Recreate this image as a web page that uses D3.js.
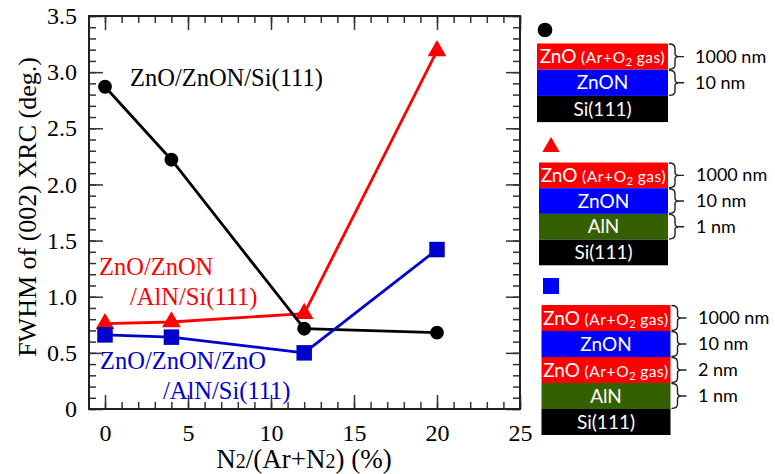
<!DOCTYPE html>
<html>
<head>
<meta charset="utf-8">
<script src="https://cdn.jsdelivr.net/npm/d3@7"></script>
<style>
  html, body { margin: 0; padding: 0; background: #fff; }
  svg { display: block; }
</style>
</head>
<body>
<svg id="chart" width="775" height="474"></svg>
<script>
// N2 flow ratio (%) for each sample
const n2Ratio = [0, 4, 12, 20];
// FWHM of the (002) X-ray rocking curve (deg.)
const fwhmZnONSi = [2.87, 2.22, 0.715, 0.68];
const fwhmZnONAlNSi = [0.76, 0.775, 0.85, 3.19];
const fwhmZnONZnOAlNSi = [0.66, 0.64, 0.50, 1.42];

// axis ticks
const xMajorTicks = [0, 5, 10, 15, 20, 25];
const xMinorTicks = d3.range(0, 26);
const yMajorTicks = [0, 0.5, 1.0, 1.5, 2.0, 2.5, 3.0, 3.5];
const yMinorTicks = d3.range(0, 36).map(i => i / 10);

// layer stacks shown beside the plot
const stackCircle = [
  { layer: "ZnO", gas: true, fill: "#ff0000", thickness: "1000 nm" },
  { layer: "ZnON", fill: "#0000ff", thickness: "10 nm" },
  { layer: "Si(111)", fill: "#000000" }
];
const stackTriangle = [
  { layer: "ZnO", gas: true, fill: "#ff0000", thickness: "1000 nm" },
  { layer: "ZnON", fill: "#0000ff", thickness: "10 nm" },
  { layer: "AlN", fill: "#356000", thickness: "1 nm" },
  { layer: "Si(111)", fill: "#000000" }
];
const stackSquare = [
  { layer: "ZnO", gas: true, fill: "#ff0000", thickness: "1000 nm" },
  { layer: "ZnON", fill: "#0000ff", thickness: "10 nm" },
  { layer: "ZnO", gas: true, fill: "#ff0000", thickness: "2 nm" },
  { layer: "AlN", fill: "#356000", thickness: "1 nm" },
  { layer: "Si(111)", fill: "#000000" }
];

const svg = d3.select("#chart");
const plotLeft = 89, plotRight = 520, plotTop = 16, plotBottom = 409;
const serif = "'Liberation Serif', 'Times New Roman', serif";
const sans = "Lato, 'Noto Sans', 'Liberation Sans', sans-serif";

const x = d3.scaleLinear().domain([-0.964, 25]).range([plotLeft, plotRight]);
const y = d3.scaleLinear().domain([0, 3.5]).range([plotBottom, plotTop]);

svg.append("rect").attr("width", 775).attr("height", 474).attr("fill", "#fff");

// ---- axes: ticks on all four sides, pointing inward ----
function styleAxis(g) {
  g.select(".domain").remove();
  g.selectAll(".tick line").attr("stroke", "#333").attr("stroke-width", 1.5);
  g.selectAll(".tick text").attr("font-family", serif).attr("font-size", 24).attr("fill", "#000");
}
const fmtY = d => d === 0 ? "0" : d3.format(".1f")(d);

svg.append("g").attr("transform", `translate(0,${plotBottom})`)
  .call(d3.axisBottom(x).tickValues(xMinorTicks).tickSize(-7).tickFormat("")).call(styleAxis);
svg.append("g").attr("transform", `translate(0,${plotBottom})`)
  .call(d3.axisBottom(x).tickValues(xMajorTicks).tickSize(-14).tickPadding(15).tickFormat(d3.format("d"))).call(styleAxis);
svg.append("g").attr("transform", `translate(0,${plotTop})`)
  .call(d3.axisTop(x).tickValues(xMinorTicks).tickSize(-7).tickFormat("")).call(styleAxis);
svg.append("g").attr("transform", `translate(0,${plotTop})`)
  .call(d3.axisTop(x).tickValues(xMajorTicks).tickSize(-14).tickFormat("")).call(styleAxis);

svg.append("g").attr("transform", `translate(${plotLeft},0)`)
  .call(d3.axisLeft(y).tickValues(yMinorTicks).tickSize(-7).tickFormat("")).call(styleAxis);
svg.append("g").attr("transform", `translate(${plotLeft},0)`)
  .call(d3.axisLeft(y).tickValues(yMajorTicks).tickSize(-14).tickPadding(12).tickFormat(fmtY)).call(styleAxis);
svg.append("g").attr("transform", `translate(${plotRight},0)`)
  .call(d3.axisRight(y).tickValues(yMinorTicks).tickSize(-7).tickFormat("")).call(styleAxis);
svg.append("g").attr("transform", `translate(${plotRight},0)`)
  .call(d3.axisRight(y).tickValues(yMajorTicks).tickSize(-14).tickFormat("")).call(styleAxis);

// plot frame
svg.append("rect")
  .attr("x", plotLeft).attr("y", plotTop).attr("width", plotRight - plotLeft).attr("height", plotBottom - plotTop)
  .attr("fill", "none").attr("stroke", "#222").attr("stroke-width", 2);

// axis titles
svg.append("text")
  .attr("transform", `translate(36,207) rotate(-90)`)
  .attr("text-anchor", "middle")
  .attr("font-family", serif).attr("font-size", 26)
  .text("FWHM of (002) XRC (deg.)");

const xt = svg.append("text")
  .attr("x", 304).attr("y", 468)
  .attr("text-anchor", "middle")
  .attr("font-family", serif).attr("font-size", 27);
xt.append("tspan").text("N");
xt.append("tspan").attr("font-size", 20).text("2");
xt.append("tspan").text("/(Ar+N");
xt.append("tspan").attr("font-size", 20).text("2");
xt.append("tspan").text(") (%)");

// ---- data series ----
const line = d3.line().x(d => x(d[0])).y(d => y(d[1]));
const series = [
  { values: fwhmZnONAlNSi, color: "#ff0000", symbol: d3.symbolTriangle, size: 150 },
  { values: fwhmZnONSi, color: "#000000", symbol: d3.symbolCircle, size: 150 },
  { values: fwhmZnONZnOAlNSi, color: "#0000cc", symbol: d3.symbolSquare, size: 240 }
];
series.forEach(s => {
  const pts = n2Ratio.map((v, i) => [v, s.values[i]]);
  svg.append("path").datum(pts)
    .attr("d", line).attr("fill", "none")
    .attr("stroke", s.color).attr("stroke-width", 2.8).attr("stroke-linejoin", "round");
  svg.selectAll(null).data(pts).enter().append("path")
    .attr("transform", d => `translate(${x(d[0])},${y(d[1])})`)
    .attr("d", d3.symbol().type(s.symbol).size(s.size))
    .attr("fill", s.color);
});

// series labels
function label(txt, px, py, color) {
  svg.append("text").attr("x", px).attr("y", py)
    .attr("font-family", serif).attr("font-size", 24.5).attr("fill", color).text(txt);
}
label("ZnO/ZnON/Si(111)", 130, 86, "#000");
label("ZnO/ZnON", 99, 275, "#ff0000");
label("/AlN/Si(111)", 130, 305, "#ff0000");
label("ZnO/ZnON/ZnO", 100, 369, "#0000cc");
label("/AlN/Si(111)", 163, 399, "#0000cc");

// ---- layer stacks ----
function brace(g, x0, y0, y1) {
  const xm = x0 + 6, ym = (y0 + y1) / 2;
  const p = d3.path();
  p.moveTo(x0, y0 + 0.5);
  p.quadraticCurveTo(xm, y0 + 0.5, xm, y0 + 5);
  p.lineTo(xm, ym - 3);
  p.quadraticCurveTo(xm, ym, xm + 4, ym);
  p.lineTo(xm + 9, ym);
  p.moveTo(xm + 4, ym);
  p.quadraticCurveTo(xm, ym, xm, ym + 3);
  p.lineTo(xm, y1 - 5);
  p.quadraticCurveTo(xm, y1 - 0.5, x0, y1 - 0.5);
  g.append("path").attr("d", p.toString())
    .attr("fill", "none").attr("stroke", "#222").attr("stroke-width", 1.4);
}

function drawStack(layers, bx, by, bw, bh, labelX) {
  const g = svg.append("g");
  layers.forEach((L, i) => {
    const y0 = by + i * bh;
    g.append("rect").attr("x", bx).attr("y", y0).attr("width", bw).attr("height", bh).attr("fill", L.fill);
    const t = g.append("text")
      .attr("x", bx + bw / 2).attr("y", y0 + bh / 2 + 6.5)
      .attr("text-anchor", "middle").attr("fill", "#fff")
      .attr("font-family", sans).attr("font-size", 19);
    t.append("tspan").text(L.layer);
    if (L.gas) {
      t.append("tspan").attr("font-size", 15.5).attr("letter-spacing", 0.6).text(" (Ar+O");
      t.append("tspan").attr("font-size", 11).attr("dy", 3).text("2");
      t.append("tspan").attr("font-size", 15.5).attr("letter-spacing", 0.6).attr("dy", -3).text(" gas)");
    }
    if (L.thickness) {
      brace(g, bx + bw + 1, y0, y0 + bh);
      g.append("text").attr("x", labelX).attr("y", y0 + bh / 2 + 6)
        .attr("font-family", sans).attr("font-size", 18).attr("fill", "#000")
        .text(L.thickness);
    }
  });
  return g;
}

drawStack(stackCircle, 537, 43.5, 131, 26.2, 695);
drawStack(stackTriangle, 539, 162.5, 129, 25.7, 696);
drawStack(stackSquare, 541.5, 305, 129, 26, 698);

// stack markers
svg.append("path").attr("transform", "translate(545,30)")
  .attr("d", d3.symbol().type(d3.symbolCircle).size(170)).attr("fill", "#000");
svg.append("path").attr("transform", "translate(551,147)")
  .attr("d", d3.symbol().type(d3.symbolTriangle).size(130)).attr("fill", "#ff0000");
svg.append("path").attr("transform", "translate(551,286)")
  .attr("d", d3.symbol().type(d3.symbolSquare).size(256)).attr("fill", "#0000ff");
</script>
</body>
</html>
